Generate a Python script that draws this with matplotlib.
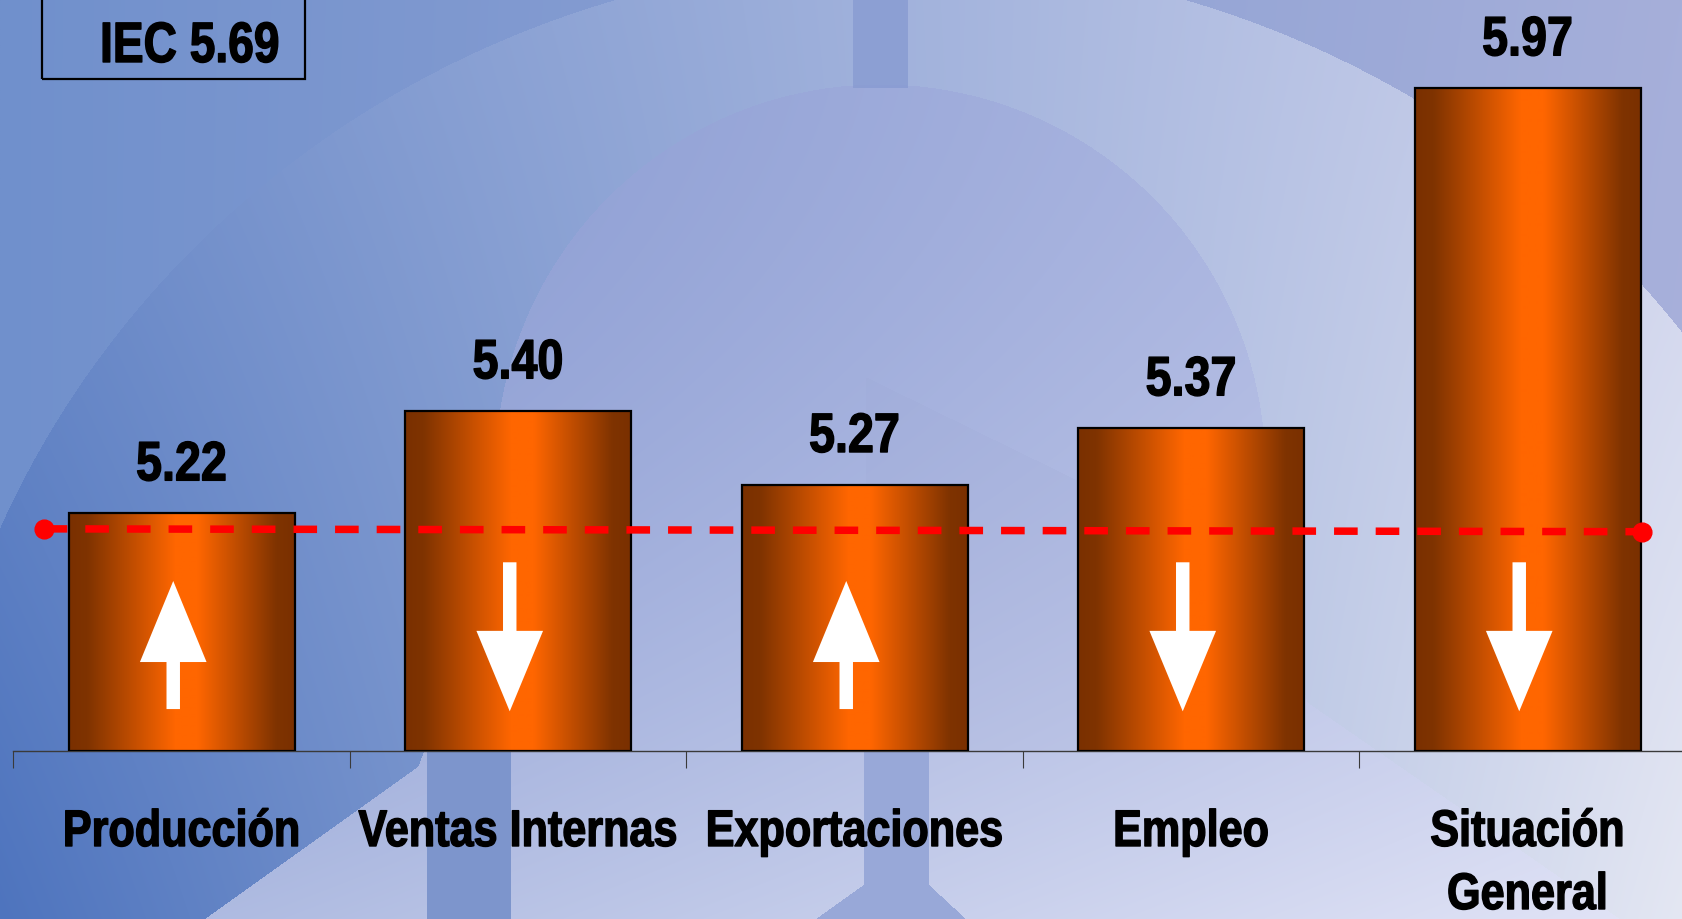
import numpy as np
import matplotlib
matplotlib.use("Agg")
import matplotlib.pyplot as plt
from matplotlib.patches import Rectangle, Polygon
from matplotlib.path import Path
from matplotlib.colors import LinearSegmentedColormap
from matplotlib.patheffects import AbstractPathEffect
import matplotlib.transforms as mtransforms

# ---------------- data ----------------
categories = ["Producción", "Ventas Internas", "Exportaciones", "Empleo", "Situación\nGeneral"]
values = [5.22, 5.40, 5.27, 5.37, 5.97]
trend = ["up", "down", "up", "down", "down"]
iec_value = 5.69
ref_line_x = [-0.41, 4.34]
ref_line_y = [5.192, 5.187]

# ---------------- layout ----------------
W, H, DPI = 1682, 920, 100
BASE = 4.8
YTOP = 6.127
plt.rcParams["font.family"] = ["Liberation Sans", "DejaVu Sans"]


class Condense(AbstractPathEffect):
    """Draw glyphs horizontally narrowed about each line's centre (Arial Narrow Bold look)."""

    def __init__(self, sx=0.84, stroke=1.0):
        super().__init__()
        self.sx = sx
        self.stroke = stroke

    def draw_path(self, renderer, gc, tpath, affine, rgbFace=None):
        verts = tpath.vertices
        cx = (verts[:, 0].min() + verts[:, 0].max()) / 2 if len(verts) else 0
        t = mtransforms.Affine2D().translate(-cx, 0).scale(self.sx, 1).translate(cx, 0) + affine
        gc0 = renderer.new_gc()
        gc0.copy_properties(gc)
        if rgbFace is not None:
            gc0.set_foreground(rgbFace)
        gc0.set_linewidth(self.stroke)
        gc0.set_joinstyle("round")
        renderer.draw_path(gc0, tpath, t, rgbFace)
        gc0.restore()


NARROW = [Condense(0.84, 1.0)]

fig = plt.figure(figsize=(W / DPI, H / DPI), dpi=DPI)

# ---------------- background (decorative watermark) ----------------
bg = fig.add_axes([0, 0, 1, 1], zorder=-10)
bg.set_xlim(0, W)
bg.set_ylim(H, 0)
bg.axis("off")
yy, xx = np.mgrid[0:H, 0:W].astype(float)
u = (xx / W)[..., None]
v = (yy / H)[..., None]
pts = np.c_[xx.ravel(), yy.ravel()]


def bilerp(tl, tr, bl, br):
    tl, tr, bl, br = (np.array(c, float) for c in (tl, tr, bl, br))
    return (1 - u) * (1 - v) * tl + u * (1 - v) * tr + (1 - u) * v * bl + u * v * br


def poly_mask(p):
    return Path(p).contains_points(pts).reshape(H, W)


outside_col = bilerp((112, 144, 204), (166, 175, 218), (112, 144, 204), (170, 178, 220))
ring_col = bilerp((112, 142, 202), (205, 210, 236), (78, 116, 190), (228, 231, 243))
bell_col = (np.array([125, 145, 205.]) * (1 - u) + np.array([185, 193, 230.]) * u
            + (v ** 2) * np.array([42, 36, 17.]))

outer = ((xx - 900) / 980) ** 2 + ((yy - 900) / 940) ** 2 < 1
th = np.linspace(np.pi, 0, 80)
bell_pts = [(880 + 385 * np.cos(t), 470 - 385 * np.sin(t)) for t in th]
bell_pts += [(1270, 560), (1307, 703), (1620, 920), (204, 920), (330, 830),
             (418, 767), (450, 680), (485, 560)]
bell = poly_mask(bell_pts)

img = np.where(outer[..., None], ring_col, outside_col)
img = np.where(bell[..., None], bell_col, img)


def tint(mask, col, a):
    global img
    img = np.where(mask[..., None], img * (1 - a) + np.array(col, float) * a, img)


tint(poly_mask([(853, 0), (907, 0), (907, 88), (853, 88)]), (132, 152, 208), 0.7)
tint(poly_mask([(866, 378), (1290, 585), (1300, 752), (866, 752)]), (150, 160, 205), 0.12)
tint(poly_mask([(427, 752), (510, 752), (510, 920), (427, 920)]), (125, 149, 204), 1.0)
tint(poly_mask([(864, 752), (928, 752), (928, 885), (966, 920), (815, 920), (864, 885)]),
     (152, 168, 216), 1.0)

bg.imshow(np.clip(img, 0, 255).astype(np.uint8), extent=[0, W, H, 0], aspect="auto",
          interpolation="bilinear")

# ---------------- main axes ----------------
ax = fig.add_axes([13.4 / W, (H - 752) / H, 5 * 336.5 / W, 752 / H])
ax.patch.set_alpha(0)
x = np.arange(len(categories))
ax.set_xlim(-0.5, len(categories) - 0.5)
ax.set_ylim(BASE, YTOP)

for s in ["top", "right", "left"]:
    ax.spines[s].set_visible(False)
ax.spines["bottom"].set_color("#3a3a3a")
ax.spines["bottom"].set_linewidth(1.0)
ax.set_yticks([])
ax.set_xticks(x)
ax.set_xticklabels([])
ax.tick_params(axis="x", which="major", length=0)
ax.set_xticks(np.arange(len(categories) + 1) - 0.5, minor=True)
ax.tick_params(axis="x", which="minor", length=12, width=0.8, color="#3a3a3a", direction="out")

# bars with horizontal cylinder-like gradient
bar_w = 0.6716
heights = [val - BASE for val in values]
bars = ax.bar(x, heights, bottom=BASE, width=bar_w, facecolor="none",
              edgecolor="black", linewidth=1.6, zorder=3)
cmap = LinearSegmentedColormap.from_list(
    "orange_cyl",
    [(0.0, "#7a3000"), (0.08, "#7f3300"), (0.47, "#ff6600"), (0.57, "#ff6600"),
     (0.92, "#7f3300"), (1.0, "#7a3000")])
grad = np.linspace(0, 1, 256)[None, :]
for b in bars:
    bx, by = b.get_x(), b.get_y()
    im = ax.imshow(grad, cmap=cmap, extent=[bx, bx + b.get_width(), by, by + b.get_height()],
                   aspect="auto", zorder=2, interpolation="bilinear")
    im.set_clip_path(b)

# white trend arrows inside bars
ARROW_DX = -0.025
HEAD_W = 0.198
SHAFT_W = 0.040
UP = dict(tip=5.100, head_base=4.957, tail=4.874)
DOWN = dict(tail=5.133, head_base=5.012, tip=4.870)
for xi, d in zip(x, trend):
    cx = xi + ARROW_DX
    g = UP if d == "up" else DOWN
    poly = [(cx, g["tip"]), (cx + HEAD_W / 2, g["head_base"]), (cx + SHAFT_W / 2, g["head_base"]),
            (cx + SHAFT_W / 2, g["tail"]), (cx - SHAFT_W / 2, g["tail"]),
            (cx - SHAFT_W / 2, g["head_base"]), (cx - HEAD_W / 2, g["head_base"])]
    ax.add_patch(Polygon(poly, closed=True, facecolor="white", edgecolor="none", zorder=4))

# value labels
for xi, val in zip(x, values):
    ax.annotate(f"{val:.2f}", (xi, val), xytext=(0, 23.5), textcoords="offset points",
                ha="center", va="baseline", fontsize=40, fontweight="bold", color="black",
                zorder=6, path_effects=NARROW)

# dashed reference line with end markers
ax.plot(ref_line_x, ref_line_y, color="#ff0000", linewidth=5.4, linestyle=(0, (3.15, 2.4)),
        zorder=5, dash_capstyle="butt")
ax.plot(ref_line_x, ref_line_y, linestyle="none", marker="o", markersize=13.5,
        color="#ff0000", zorder=5)

# category labels (baseline of first line at ~847 px from top)
trans = mtransforms.blended_transform_factory(ax.transData, fig.transFigure)
LINE_GAP = 63
for xi, lab in zip(x, categories):
    n = lab.count("\n")
    ax.text(xi, (H - 847 - LINE_GAP * n) / H, lab, transform=trans, ha="center",
            va="baseline", fontsize=37, fontweight="bold", color="black", linespacing=1.37,
            multialignment="center", clip_on=False, path_effects=NARROW)

# IEC box
fig.patches.append(Rectangle((42 / W, (H - 80) / H), (305 - 42) / W, 100 / H,
                             transform=fig.transFigure, facecolor="none",
                             edgecolor="black", linewidth=1.6))
fig.text(190 / W, (H - 63) / H, f"IEC {iec_value:.2f}", ha="center", va="baseline",
         fontsize=41, fontweight="bold", color="black", path_effects=[Condense(0.81, 1.0)])

fig.savefig("out.png", dpi=DPI)
